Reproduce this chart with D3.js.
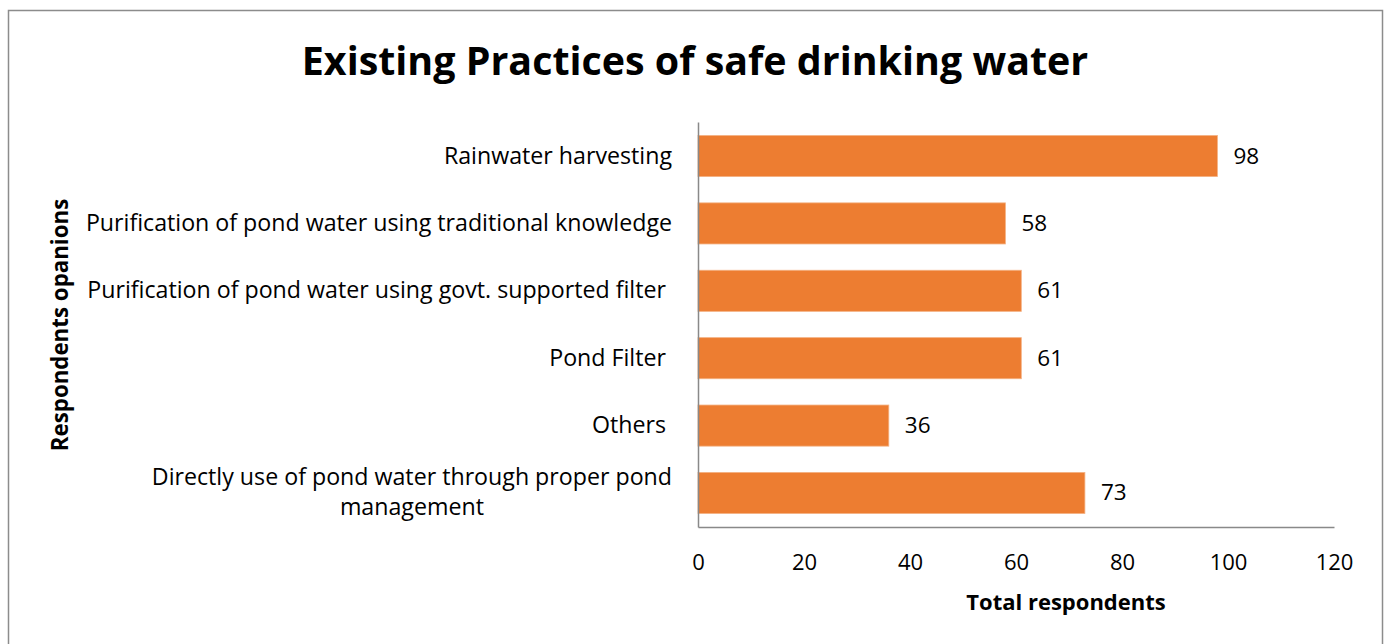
<!DOCTYPE html>
<html><head><meta charset="utf-8">
<script src="https://cdn.jsdelivr.net/npm/d3@7"></script>
<style>body{margin:0;background:#fff}svg{display:block}text{font-family:"Open Sans",sans-serif;white-space:pre}</style>
</head><body>
<script>
const categories = [
  "Rainwater harvesting",
  "Purification of pond water using traditional knowledge",
  "Purification of pond water using govt. supported filter ",
  "Pond Filter ",
  "Others ",
  "Directly use of pond water through proper pond management"
];
const labelLines = [
  ["Rainwater harvesting"],
  ["Purification of pond water using traditional knowledge"],
  ["Purification of pond water using govt. supported filter "],
  ["Pond Filter "],
  ["Others "],
  ["Directly use of pond water through proper pond", "management"]
];
const values = [98, 58, 61, 61, 36, 73];
const xTicks = [0, 20, 40, 60, 80, 100, 120];
const title = "Existing Practices of safe drinking water";
const xTitle = "Total respondents";
const yTitle = "Respondents opanions";

const W = 1391, H = 644;
const FONT = "'Open Sans', sans-serif";
const LABEL_SIZE = 23.2;
const svg = d3.select("body").append("svg").attr("width", W).attr("height", H);
svg.append("rect").attr("x", 8.5).attr("y", 10.5).attr("width", 1374).attr("height", 650)
  .attr("fill", "#fff").attr("stroke", "#8c8c8c").attr("stroke-width", 1.5);

const x = d3.scaleLinear().domain([0, 120]).range([698, 1334]);
const y = d3.scaleBand().domain(categories).range([122, 527]).paddingInner(0.39).paddingOuter(0.2);

svg.append("text").attr("x", 695).attr("y", 75).attr("text-anchor", "middle")
  .attr("font-size", 39.4).attr("font-weight", "bold").attr("fill", "#000").text(title);

svg.selectAll("rect.bar").data(categories).join("rect").attr("class", "bar")
  .attr("x", x(0)).attr("y", d => y(d)).attr("width", (d, i) => x(values[i]) - x(0))
  .attr("height", y.bandwidth()).attr("fill", "#ED7D31").attr("stroke", "#F4B183").attr("stroke-width", 0.8);

// axes
const xAxis = d3.axisBottom(x).tickValues(xTicks).tickSize(0).tickPadding(27);
const gx = svg.append("g").attr("transform", "translate(0,527)").call(xAxis);
gx.select(".domain").attr("stroke", "#898989").attr("stroke-width", 1.5);
gx.selectAll("text").attr("font-size", 22).attr("fill", "#000").attr("font-family", FONT);

const yAxis = d3.axisLeft(y).tickSize(0).tickFormat("");
const gy = svg.append("g").attr("transform", "translate(698,0)").call(yAxis);
gy.select(".domain").attr("stroke", "#898989").attr("stroke-width", 1.5);

// category labels (wrapped lines centered within a right-aligned block)
const labelRight = 672;
categories.forEach((c, i) => {
  const cy = y(c) + y.bandwidth() / 2;
  const lines = labelLines[i];
  if (lines.length > 1) {
    const tmp = svg.append("text").attr("font-size", LABEL_SIZE).text(lines[0]);
    const w = tmp.node().getComputedTextLength(); tmp.remove();
    const cx = labelRight - w / 2;
    const t = svg.append("text").attr("font-size", LABEL_SIZE).attr("fill", "#000");
    lines.forEach((ln, k) => {
      t.append("tspan").attr("x", cx).attr("y", cy + 7.5 + (k - (lines.length - 1) / 2) * 30)
        .attr("text-anchor", "middle").text(ln);
    });
  } else {
    svg.append("text").attr("x", labelRight).attr("y", cy + 7.5).attr("text-anchor", "end")
      .attr("font-size", LABEL_SIZE).attr("fill", "#000").text(lines[0]);
  }
});

// value labels
svg.selectAll("text.val").data(categories).join("text").attr("class", "val")
  .attr("x", (d, i) => x(values[i]) + 16).attr("y", d => y(d) + y.bandwidth() / 2 + 7.5)
  .attr("font-size", 22.5).attr("fill", "#000").text((d, i) => values[i]);

svg.append("text").attr("x", 1066).attr("y", 610).attr("text-anchor", "middle")
  .attr("font-size", 22).attr("font-weight", "bold").text(xTitle);
svg.append("text").attr("transform", "translate(68,325) rotate(-90)").attr("text-anchor", "middle")
  .attr("font-size", 22.3).attr("font-weight", "bold").text(yTitle);
</script>
</body></html>
